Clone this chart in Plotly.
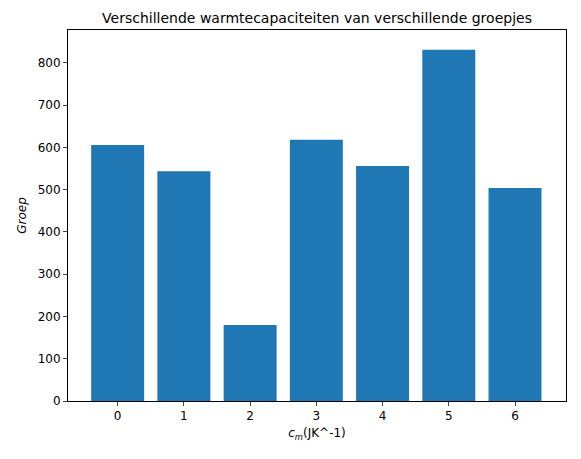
import plotly.graph_objects as go

groups = [0, 1, 2, 3, 4, 5, 6]
values = [606, 544, 180, 618, 556, 831, 504]
yticks = [0, 100, 200, 300, 400, 500, 600, 700, 800]

fig = go.Figure(go.Bar(x=groups, y=values, width=0.8, marker=dict(color="#1f77b4", line=dict(width=0))))
fig.update_layout(
    width=581, height=459,
    margin=dict(l=60, r=23, t=22, b=66),
    plot_bgcolor="white", paper_bgcolor="white",
    font=dict(family="DejaVu Sans", size=12, color="black"),
    title=dict(text="Verschillende warmtecapaciteiten van verschillende groepjes",
               xref="paper", x=0.5, xanchor="center",
               yref="container", y=1 - 10/459, yanchor="middle", font=dict(size=14)),
    showlegend=False,
)
fig.update_xaxes(range=[-0.75, 6.77], tickvals=groups, ticks="outside", ticklen=4,
                 showline=True, linecolor="black", mirror=True, showgrid=False, zeroline=False,
                 title=dict(text="<i>c</i><sub><i>m</i></sub>(JK^-1)", standoff=6, font=dict(size=12)))
fig.update_yaxes(range=[0, 878], tickvals=yticks, ticks="outside", ticklen=4,
                 showline=True, linecolor="black", mirror=True, showgrid=False, zeroline=False,
                 title=dict(text="<i>Groep</i>", standoff=8, font=dict(size=12)))
fig.write_html("out.html")
